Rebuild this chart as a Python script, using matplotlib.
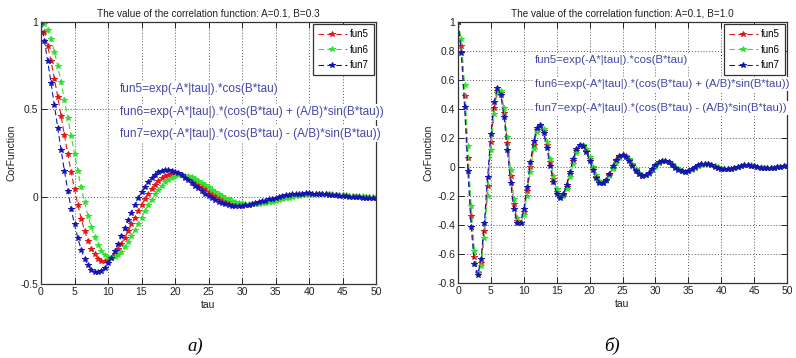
import matplotlib
matplotlib.use('Agg')
import matplotlib.pyplot as plt

plt.rcParams['font.family'] = ['Liberation Sans', 'DejaVu Sans']

tau = [0, 0.5, 1, 1.5, 2, 2.5, 3, 3.5, 4, 4.5,
       5, 5.5, 6, 6.5, 7, 7.5, 8, 8.5, 9, 9.5,
       10, 10.5, 11, 11.5, 12, 12.5, 13, 13.5, 14, 14.5,
       15, 15.5, 16, 16.5, 17, 17.5, 18, 18.5, 19, 19.5,
       20, 20.5, 21, 21.5, 22, 22.5, 23, 23.5, 24, 24.5,
       25, 25.5, 26, 26.5, 27, 27.5, 28, 28.5, 29, 29.5,
       30, 30.5, 31, 31.5, 32, 32.5, 33, 33.5, 34, 34.5,
       35, 35.5, 36, 36.5, 37, 37.5, 38, 38.5, 39, 39.5,
       40, 40.5, 41, 41.5, 42, 42.5, 43, 43.5, 44, 44.5,
       45, 45.5, 46, 46.5, 47, 47.5, 48, 48.5, 49, 49.5,
       50]

# Panel a) A=0.1, B=0.3
a_fun5 = [1.000, 0.941, 0.864, 0.775, 0.676, 0.570, 0.461, 0.351, 0.243, 0.140,
          0.043, -0.046, -0.125, -0.194, -0.251, -0.297, -0.331, -0.355, -0.368, -0.370,
          -0.364, -0.350, -0.329, -0.302, -0.270, -0.235, -0.198, -0.159, -0.121, -0.083,
          -0.047, -0.013, 0.018, 0.045, 0.069, 0.089, 0.105, 0.117, 0.125, 0.129,
          0.130, 0.128, 0.122, 0.115, 0.105, 0.094, 0.082, 0.069, 0.055, 0.042,
          0.028, 0.016, 0.004, -0.007, -0.016, -0.025, -0.032, -0.037, -0.041, -0.044,
          -0.045, -0.046, -0.045, -0.043, -0.040, -0.037, -0.033, -0.028, -0.024, -0.019,
          -0.014, -0.010, -0.005, -0.001, 0.003, 0.006, 0.009, 0.011, 0.013, 0.015,
          0.015, 0.016, 0.016, 0.016, 0.015, 0.014, 0.013, 0.011, 0.010, 0.008,
          0.007, 0.005, 0.003, 0.002, 0.000, -0.001, -0.002, -0.003, -0.004, -0.005,
          -0.005]
a_fun6 = [1.000, 0.988, 0.954, 0.900, 0.830, 0.747, 0.654, 0.554, 0.451, 0.347,
          0.245, 0.146, 0.053, -0.032, -0.108, -0.174, -0.230, -0.275, -0.310, -0.333,
          -0.347, -0.351, -0.346, -0.334, -0.315, -0.290, -0.260, -0.228, -0.193, -0.156,
          -0.120, -0.084, -0.049, -0.017, 0.013, 0.039, 0.062, 0.082, 0.097, 0.109,
          0.117, 0.122, 0.123, 0.121, 0.117, 0.110, 0.101, 0.091, 0.079, 0.067,
          0.054, 0.041, 0.029, 0.017, 0.005, -0.005, -0.014, -0.022, -0.029, -0.034,
          -0.039, -0.041, -0.043, -0.043, -0.043, -0.041, -0.038, -0.035, -0.032, -0.028,
          -0.023, -0.019, -0.014, -0.010, -0.006, -0.002, 0.002, 0.005, 0.008, 0.010,
          0.012, 0.014, 0.015, 0.015, 0.015, 0.015, 0.014, 0.013, 0.012, 0.011,
          0.010, 0.008, 0.006, 0.005, 0.003, 0.002, 0.001, -0.001, -0.002, -0.003,
          -0.004]
a_fun7 = [1.000, 0.893, 0.775, 0.650, 0.522, 0.393, 0.267, 0.147, 0.035, -0.068,
          -0.159, -0.237, -0.303, -0.355, -0.394, -0.419, -0.433, -0.434, -0.425, -0.407,
          -0.382, -0.349, -0.311, -0.270, -0.226, -0.181, -0.135, -0.091, -0.049, -0.010,
          0.026, 0.057, 0.085, 0.107, 0.126, 0.139, 0.148, 0.152, 0.152, 0.149,
          0.143, 0.133, 0.122, 0.108, 0.094, 0.078, 0.062, 0.047, 0.031, 0.016,
          0.003, -0.010, -0.021, -0.030, -0.038, -0.044, -0.049, -0.052, -0.053, -0.053,
          -0.052, -0.050, -0.047, -0.042, -0.038, -0.033, -0.027, -0.022, -0.016, -0.011,
          -0.006, -0.001, 0.004, 0.007, 0.011, 0.014, 0.016, 0.017, 0.018, 0.019,
          0.019, 0.018, 0.017, 0.016, 0.015, 0.013, 0.011, 0.009, 0.007, 0.006,
          0.004, 0.002, 0.000, -0.001, -0.003, -0.004, -0.005, -0.006, -0.006, -0.006,
          -0.007]

# Panel б) A=0.1, B=1.0
b_fun5 = [1.000, 0.835, 0.489, 0.061, -0.341, -0.624, -0.733, -0.660, -0.438, -0.134,
          0.172, 0.409, 0.527, 0.510, 0.374, 0.164, -0.065, -0.257, -0.370, -0.386,
          -0.309, -0.166, 0.001, 0.153, 0.254, 0.286, 0.247, 0.154, 0.034, -0.083,
          -0.170, -0.208, -0.193, -0.135, -0.050, 0.038, 0.109, 0.148, 0.148, 0.113,
          0.055, -0.010, -0.067, -0.103, -0.111, -0.092, -0.053, -0.006, 0.038, 0.070,
          0.081, 0.073, 0.048, 0.014, -0.020, -0.046, -0.059, -0.056, -0.041, -0.018,
          0.008, 0.029, 0.041, 0.043, 0.034, 0.018, 0.000, -0.017, -0.028, -0.032,
          -0.027, -0.017, -0.004, 0.009, 0.019, 0.023, 0.021, 0.015, 0.005, -0.004,
          -0.012, -0.016, -0.016, -0.012, -0.006, 0.001, 0.008, 0.011, 0.012, 0.010,
          0.006, 0.001, -0.004, -0.008, -0.009, -0.008, -0.005, -0.002, 0.002, 0.005,
          0.007]
b_fun6 = [1.000, 0.880, 0.565, 0.147, -0.266, -0.577, -0.723, -0.685, -0.489, -0.197,
          0.114, 0.368, 0.512, 0.521, 0.407, 0.208, -0.021, -0.223, -0.354, -0.389,
          -0.329, -0.197, -0.032, 0.125, 0.238, 0.284, 0.259, 0.175, 0.058, -0.061,
          -0.155, -0.203, -0.199, -0.149, -0.068, 0.021, 0.097, 0.142, 0.150, 0.122,
          0.068, 0.003, -0.057, -0.097, -0.111, -0.097, -0.062, -0.015, 0.030, 0.064,
          0.080, 0.076, 0.054, 0.021, -0.013, -0.041, -0.057, -0.058, -0.045, -0.023,
          0.003, 0.025, 0.039, 0.043, 0.036, 0.022, 0.003, -0.014, -0.027, -0.032,
          -0.029, -0.019, -0.006, 0.007, 0.017, 0.023, 0.022, 0.016, 0.007, -0.003,
          -0.011, -0.016, -0.017, -0.013, -0.007, 0.000, 0.006, 0.011, 0.012, 0.011,
          0.007, 0.002, -0.003, -0.007, -0.009, -0.008, -0.006, -0.002, 0.002, 0.005,
          0.006]
b_fun7 = [1.000, 0.789, 0.413, -0.025, -0.415, -0.671, -0.744, -0.635, -0.387, -0.072,
          0.230, 0.450, 0.542, 0.499, 0.342, 0.119, -0.110, -0.291, -0.387, -0.383,
          -0.289, -0.136, 0.035, 0.181, 0.270, 0.288, 0.236, 0.133, 0.009, -0.105,
          -0.184, -0.212, -0.188, -0.121, -0.033, 0.055, 0.122, 0.153, 0.146, 0.105,
          0.043, -0.023, -0.077, -0.108, -0.111, -0.087, -0.045, 0.004, 0.047, 0.075,
          0.082, 0.070, 0.042, 0.007, -0.026, -0.050, -0.060, -0.055, -0.038, -0.013,
          0.013, 0.033, 0.043, 0.042, 0.032, 0.015, -0.004, -0.020, -0.030, -0.032,
          -0.026, -0.015, -0.001, 0.012, 0.021, 0.024, 0.021, 0.013, 0.003, -0.006,
          -0.014, -0.017, -0.016, -0.011, -0.005, 0.003, 0.009, 0.012, 0.012, 0.010,
          0.005, -0.001, -0.005, -0.008, -0.009, -0.008, -0.005, -0.001, 0.003, 0.006,
          0.007]

series_names = ['fun5', 'fun6', 'fun7']
series_colors = ['#e01818', '#30e030', '#1414b4']
titles = ['The value of the correlation function: A=0.1, B=0.3',
          'The value of the correlation function: A=0.1, B=1.0']
formulas = ['fun5=exp(-A*|tau|).*cos(B*tau)',
            'fun6=exp(-A*|tau|).*(cos(B*tau) + (A/B)*sin(B*tau))',
            'fun7=exp(-A*|tau|).*(cos(B*tau) - (A/B)*sin(B*tau))']
a_yticks = [-0.5, 0, 0.5, 1]
a_yticklabels = ['-0.5', '0', '0.5', '1']
b_yticks = [-0.8, -0.6, -0.4, -0.2, 0, 0.2, 0.4, 0.6, 0.8, 1]
b_yticklabels = ['-0.8', '-0.6', '-0.4', '-0.2', '0', '0.2', '0.4', '0.6', '0.8', '1']
xticks = [0, 5, 10, 15, 20, 25, 30, 35, 40, 45, 50]
panel_labels = ['а)', 'б)']

W, H = 796, 358
fig = plt.figure(figsize=(W / 100, H / 100), dpi=100)
fig.patch.set_facecolor('white')


def px_axes(l, t, r, b):
    return fig.add_axes([l / W, 1 - b / H, (r - l) / W, (b - t) / H])


def style_axes(ax, yticks, yticklabels, ylim):
    ax.set_xlim(0, 50)
    ax.set_ylim(*ylim)
    ax.set_xticks(xticks)
    ax.set_xticklabels([str(x) for x in xticks])
    ax.set_yticks(yticks)
    ax.set_yticklabels(yticklabels)
    ax.tick_params(direction='in', length=4, width=0.7, top=True, right=True,
                   labelsize=7.5, colors='#222222', pad=2)
    for sp in ax.spines.values():
        sp.set_linewidth(0.9)
        sp.set_color('#333333')
    ax.grid(True, linestyle=(0, (1, 2)), color='#555555', linewidth=0.7)
    ax.set_axisbelow(True)
    ax.set_xlabel('tau', fontsize=7.5, color='#222222', labelpad=2)
    ax.set_ylabel('CorFunction', fontsize=7.5, color='#222222', labelpad=3)


def plot_panel(ax, ys):
    for y, name, col in zip(ys, series_names, series_colors):
        ax.plot(tau, y, linestyle=(0, (5, 3)), color=col, linewidth=0.8,
                marker='*', markersize=4.2, markeredgewidth=0.7, label=name)
    leg = ax.legend(loc='upper right', fontsize=7, fancybox=False,
                    edgecolor='#333333', framealpha=1, handlelength=3.0,
                    labelspacing=0.55, borderpad=0.5, handletextpad=0.3,
                    borderaxespad=0.25)
    leg.get_frame().set_linewidth(0.9)


ax1 = px_axes(41, 22, 376, 284)
style_axes(ax1, a_yticks, a_yticklabels, (-0.5, 1))
plot_panel(ax1, [a_fun5, a_fun6, a_fun7])
ax1.set_title(titles[0], fontsize=7.2, color='#222222', pad=4)

ax2 = px_axes(458, 22, 787, 283)
style_axes(ax2, b_yticks, b_yticklabels, (-0.8, 1))
plot_panel(ax2, [b_fun5, b_fun6, b_fun7])
ax2.set_title(titles[1], fontsize=7.2, color='#222222', pad=4)

text_color = '#4545a8'
for (x0, ys, fs) in [(120, [89, 112, 134], 8.5), (535, [60, 84, 108], 8.2)]:
    for f, yy in zip(formulas, ys):
        fig.text(x0 / W, 1 - yy / H, f, fontsize=fs, color=text_color,
                 ha='left', va='center',
                 bbox=dict(facecolor='white', edgecolor='none', pad=1.5))

fig.text(195 / W, 1 - 346 / H, panel_labels[0], fontsize=13.5, style='italic',
         family=['Liberation Serif', 'DejaVu Serif'], ha='center', va='center')
fig.text(612 / W, 1 - 346 / H, panel_labels[1], fontsize=13.5, style='italic',
         family=['Liberation Serif', 'DejaVu Serif'], ha='center', va='center')

fig.savefig('out.png', dpi=100, facecolor='white')
